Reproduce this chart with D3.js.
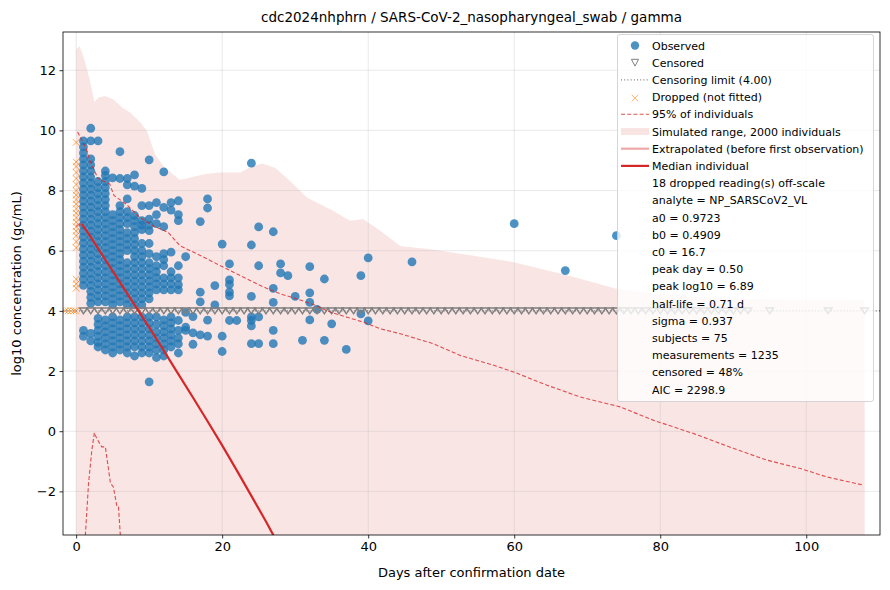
<!DOCTYPE html>
<html>
<head>
<meta charset="utf-8">
<script src="https://cdn.jsdelivr.net/npm/d3@7"></script>
<style>
body { margin: 0; background: #fff; }
text { font-family: "DejaVu Sans", sans-serif; fill: #000; }
</style>
</head>
<body>
<svg id="chart" width="890" height="590"></svg>
<script>
// ---- data ----
const xTicks = [0, 20, 40, 60, 80, 100];
const yTicks = [-2, 0, 2, 4, 6, 8, 10, 12];
const censorLimit = 4.0;

// observed readings, grouped by day
const observed = [
  [1, [9.65, 9.45, 9.25, 9.05, 8.85, 8.65, 8.45, 8.25, 8.05, 7.85, 7.65, 7.45, 7.25, 7.05, 6.85, 6.65, 6.45, 6.25, 6.05, 5.85, 5.65, 5.45, 5.25, 5.05, 4.85, 3.35, 3.15]],
  [2, [10.07, 9.65, 9.05, 8.85, 8.65, 8.45, 8.25, 8.05, 7.85, 7.65, 7.45, 7.25, 7.05, 6.85, 6.65, 6.45, 6.25, 6.05, 5.85, 5.65, 5.45, 5.25, 5.05, 4.85, 4.65, 4.45, 4.25, 3.25, 3.0]],
  [3, [9.65, 8.3, 8.1, 7.9, 7.7, 7.5, 7.3, 7.1, 6.9, 6.7, 6.5, 6.3, 6.1, 5.9, 5.7, 5.5, 5.3, 5.1, 4.9, 4.7, 4.5, 4.3, 3.75, 3.55, 3.35, 3.15, 2.95, 2.8]],
  [4, [8.65, 8.5, 8.3, 8.1, 7.9, 7.7, 7.5, 7.3, 7.1, 6.9, 6.7, 6.5, 6.3, 6.1, 5.9, 5.7, 5.5, 5.3, 5.1, 4.9, 4.7, 4.5, 4.3, 3.7, 3.5, 3.3, 3.1, 2.9, 2.7]],
  [5, [8.42, 7.2, 7.0, 6.8, 6.6, 6.4, 6.2, 6.0, 5.8, 5.6, 5.4, 5.2, 5.0, 4.8, 4.6, 4.4, 4.2, 3.8, 3.6, 3.4, 3.2, 3.0, 2.8, 2.6]],
  [6, [9.29, 8.4, 7.5, 7.3, 7.1, 6.9, 6.7, 6.5, 6.3, 6.1, 5.9, 5.7, 5.5, 5.3, 5.1, 4.9, 4.7, 4.5, 4.3, 3.7, 3.5, 3.3, 3.1, 2.9, 2.7]],
  [7, [8.4, 8.19, 7.72, 7.3, 7.1, 6.9, 6.6, 6.4, 6.2, 6.0, 5.6, 5.4, 5.2, 5.0, 4.8, 4.6, 4.4, 4.2, 3.8, 3.6, 3.4, 3.2, 3.0, 2.8, 2.6]],
  [8, [8.52, 8.15, 7.17, 7.0, 6.8, 6.6, 6.4, 6.2, 6.0, 5.8, 5.6, 5.4, 5.2, 5.0, 4.8, 4.6, 4.4, 4.2, 3.8, 3.6, 3.4, 3.2, 3.0, 2.8, 2.5]],
  [9, [8.07, 7.5, 7.0, 6.85, 6.7, 6.24, 6.0, 5.8, 5.6, 5.4, 5.2, 5.0, 4.8, 4.6, 4.4, 4.2, 3.8, 3.6, 3.4, 3.2, 3.0, 2.8, 2.6]],
  [10, [9.02, 7.5, 7.05, 6.85, 6.67, 6.24, 5.9, 5.6, 5.4, 5.2, 5.0, 4.8, 4.6, 4.4, 3.8, 3.6, 3.4, 3.2, 3.0, 2.8, 2.6, 1.64]],
  [11, [7.6, 7.2, 6.9, 5.8, 5.5, 5.3, 5.1, 4.9, 4.7, 3.8, 3.55, 3.3, 3.1, 2.9, 2.7, 2.45]],
  [12, [8.62, 7.44, 6.8, 5.9, 5.7, 5.5, 5.1, 4.9, 4.7, 3.7, 3.5, 3.3, 3.1, 2.9, 2.7, 2.5]],
  [13, [7.6, 7.35, 5.95, 5.3, 5.1, 4.9, 4.7, 3.8, 3.6, 3.4, 3.2, 3.0, 2.8]],
  [14, [7.66, 7.2, 7.0, 5.5, 5.1, 4.87, 4.7, 3.68, 3.35, 3.1, 2.9, 2.6]],
  [15, [5.8, 3.95, 3.46, 3.35]],
  [16, [3.81, 3.27, 2.89]],
  [17, [6.97, 4.62, 4.3, 3.2]],
  [18, [7.72, 7.42, 3.69, 3.16]],
  [19, [4.84, 4.2]],
  [20, [6.22, 3.16, 2.65]],
  [21, [5.56, 5.03, 4.88, 4.63, 4.5, 3.68]],
  [22, [3.68]],
  [24, [8.91, 6.19, 4.48, 3.8, 3.68, 3.5, 2.91]],
  [25, [6.79, 5.5, 3.8, 2.91]],
  [27, [6.63, 4.75, 4.28, 3.35, 2.91]],
  [28, [5.56, 5.26]],
  [29, [5.17]],
  [30, [4.48]],
  [31, [3.02]],
  [32, [5.47, 4.6, 4.28, 3.7]],
  [33, [4.05]],
  [34, [5.06, 3.02]],
  [35, [3.57]],
  [37, [2.72]],
  [39, [5.17, 3.9]],
  [40, [5.76, 3.67]],
  [46, [5.63]],
  [60, [6.9]],
  [67, [5.34]],
  [74, [6.5]]
];

// censored readings (plotted at the limit)
const censoredDays = [1, 2, 3, 4, 5, 6, 7, 8, 9, 10, 11, 12, 13, 14, 15, 16, 17, 18, 19, 20,
  21, 22, 23, 24, 25, 26, 27, 28, 29, 30, 31, 32, 33, 34, 35, 36, 37, 38, 39, 40,
  41, 42, 43, 44, 45, 46, 47, 48, 49, 50, 51, 52, 53, 54, 55, 56, 57, 58, 59, 60,
  61, 62, 63, 64, 65, 66, 67, 68, 69, 70, 71, 72, 73, 74, 75, 76, 77, 78, 79, 80,
  81, 82, 83, 84, 85, 86, 87, 88, 89, 90, 91, 92, 95, 103, 108];

// dropped readings (not fitted)
const droppedDays = [0, 0, 0, 0, 0, 0, 0, 0, 0, 0, 0, 0, 0, 0, 0, 0, 0, 0, 0, 0, 0, 0, -1.5, -1.1, -0.7, -0.3, 0];
const droppedValues = [9.6, 8.95, 8.8, 8.6, 8.4, 8.2, 8.0, 7.85, 7.7, 7.55, 7.4, 7.25, 7.1, 6.95, 6.8, 6.65, 6.5, 6.3, 6.1, 5.05, 4.9, 4.75, 4.0, 4.0, 4.0, 4.0, 4.0];

// simulated range upper edge (lower edge is off-scale)
const simDays = [0, 0.5, 1.2, 1.9, 2.5, 3.1, 4, 5.1, 6.3, 7.4, 8.8, 9.7, 10.8, 12, 14.2, 17.7, 19.7, 22.5, 24, 25.5, 27.3, 29.3, 31.6, 35, 37.5, 39.3, 41.6, 44.4, 48.5, 54, 59.9, 67, 74.1, 80, 90, 100, 108];
const simUpper = [12.7, 12.8, 12.3, 11.64, 10.95, 11.09, 11.14, 11.03, 10.76, 10.59, 10.26, 9.98, 9.21, 8.8, 8.35, 8.55, 8.6, 8.6, 8.8, 8.9, 8.75, 8.32, 7.77, 7.35, 7.0, 7.05, 6.67, 6.16, 6.05, 5.85, 5.62, 5.2, 4.73, 4.55, 4.4, 4.37, 4.35];
const simLower = -10;

// 95% of individuals, upper and lower dashed curves
const upperDays = [0.2, 1.4, 1.8, 2.5, 3.0, 4.6, 5.2, 6.85, 8.45, 10.5, 12.6, 14.2, 17.0, 18.8, 21.1, 23.4, 25.7, 27.9, 30.2, 32.5, 34.8, 37.1, 39.4, 41.6, 44.4, 48.9, 52.6, 57.2, 59.9, 64.5, 69, 74.5, 79.1, 84.6, 90, 94.6, 99.2, 102.8, 107.8];
const upperValues = [9.95, 9.38, 9.04, 8.66, 8.4, 8.21, 7.83, 7.55, 7.16, 6.83, 6.61, 6.17, 5.84, 5.62, 5.34, 5.06, 4.79, 4.57, 4.4, 4.21, 3.96, 3.79, 3.62, 3.41, 3.24, 2.91, 2.52, 2.19, 1.97, 1.53, 1.14, 0.81, 0.36, -0.08, -0.57, -0.96, -1.24, -1.52, -1.79];
const lowerDays = [1.0, 1.7, 2.15, 2.5, 2.8, 3.5, 4.0, 4.7, 5.1, 5.6, 5.8, 6.2];
const lowerValues = [-4.5, -1.73, -0.63, -0.05, -0.23, -0.52, -0.52, -1.73, -1.85, -2.52, -2.52, -4.0];

// median individual
const extrapDays = [0, 0.5, 0.8];
const extrapValues = [6.8, 6.89, 6.88];
const medianDays = [0.8, 2, 4, 6, 8, 10, 12, 14, 16, 18, 20, 22, 24, 26, 28];
const medianValues = [6.88, 6.45, 5.7, 4.95, 4.2, 3.45, 2.68, 1.9, 1.12, 0.33, -0.47, -1.3, -2.15, -3.0, -3.9];

const legendStats = [
  '18 dropped reading(s) off-scale',
  'analyte = NP_SARSCoV2_VL',
  'a0 = 0.9723',
  'b0 = 0.4909',
  'c0 = 16.7',
  'peak day = 0.50',
  'peak log10 = 6.89',
  'half-life = 0.71 d',
  'sigma = 0.937',
  'subjects = 75',
  'measurements = 1235',
  'censored = 48%',
  'AIC = 2298.9'
];

// ---- chart ----
const blue = '#1f77b4', red = '#d62728', orange = '#ff7f0e', grey = '#7f7f7f';
const pLeft = 63, pRight = 880, pTop = 32, pBottom = 535;

const svg = d3.select('#chart');

const x = d3.scaleLinear().domain([-1.8, 110.1]).range([pLeft, pRight]);
const y = d3.scaleLinear().domain([-3.45, 13.27]).range([pBottom, pTop]);

svg.append('defs').append('clipPath').attr('id', 'plot-clip')
  .append('rect').attr('x', pLeft).attr('y', pTop).attr('width', pRight - pLeft).attr('height', pBottom - pTop);

const plot = svg.append('g').attr('clip-path', 'url(#plot-clip)');

// simulated range
const sim = simDays.map((d, i) => [d, simUpper[i]]);
plot.append('path')
  .datum(sim)
  .attr('d', d3.area().x(d => x(d[0])).y0(y(simLower)).y1(d => y(d[1])))
  .attr('fill', red).attr('fill-opacity', 0.12);

// grid
plot.append('g').selectAll('line').data(xTicks).join('line')
  .attr('x1', d => x(d)).attr('x2', d => x(d)).attr('y1', pTop).attr('y2', pBottom)
  .attr('stroke', '#b0b0b0').attr('stroke-opacity', 0.35).attr('stroke-width', 0.8);
plot.append('g').selectAll('line').data(yTicks).join('line')
  .attr('y1', d => y(d)).attr('y2', d => y(d)).attr('x1', pLeft).attr('x2', pRight)
  .attr('stroke', '#b0b0b0').attr('stroke-opacity', 0.35).attr('stroke-width', 0.8);

// observed
const obsPoints = observed.flatMap(([day, vals]) => vals.map(v => [day, v]));
plot.append('g').selectAll('circle').data(obsPoints).join('circle')
  .attr('cx', d => x(d[0])).attr('cy', d => y(d[1])).attr('r', 4.4)
  .attr('fill', blue).attr('fill-opacity', 0.8);

// censored
const tri = 'M-3.9,-2.9L3.9,-2.9L0,2.9Z';
plot.append('g').selectAll('path').data(censoredDays).join('path')
  .attr('transform', d => `translate(${x(d)},${y(censorLimit)})`)
  .attr('d', tri).attr('fill', 'none').attr('stroke', grey).attr('stroke-width', 1.4);

// dropped
const cross = 'M-3.3,-3.3L3.3,3.3M-3.3,3.3L3.3,-3.3';
plot.append('g').selectAll('path').data(droppedDays.map((d, i) => [d, droppedValues[i]])).join('path')
  .attr('transform', d => `translate(${x(d[0])},${y(d[1])})`)
  .attr('d', cross).attr('fill', 'none').attr('stroke', orange).attr('stroke-opacity', 0.7).attr('stroke-width', 1);

// censoring limit
plot.append('line')
  .attr('x1', pLeft).attr('x2', pRight).attr('y1', y(censorLimit)).attr('y2', y(censorLimit))
  .attr('stroke', grey).attr('stroke-width', 1.1).attr('stroke-dasharray', '1,2.2');

const line = d3.line().x(d => x(d[0])).y(d => y(d[1]));

// 95% of individuals
[[upperDays, upperValues], [lowerDays, lowerValues]].forEach(([ds, vs]) => {
  plot.append('path')
    .datum(ds.map((d, i) => [d, vs[i]]))
    .attr('d', line)
    .attr('fill', 'none').attr('stroke', red).attr('stroke-opacity', 0.8)
    .attr('stroke-width', 1.1).attr('stroke-dasharray', '4,2.2');
});

// extrapolated + median
plot.append('path')
  .datum(extrapDays.map((d, i) => [d, extrapValues[i]]))
  .attr('d', line).attr('fill', 'none').attr('stroke', red).attr('stroke-opacity', 0.4).attr('stroke-width', 2.2);
plot.append('path')
  .datum(medianDays.map((d, i) => [d, medianValues[i]]))
  .attr('d', line).attr('fill', 'none').attr('stroke', red).attr('stroke-width', 2.2);

// axes
const xAxis = svg.append('g').attr('transform', `translate(0,${pBottom})`)
  .call(d3.axisBottom(x).tickValues(xTicks).tickSize(3.5).tickPadding(3.5).tickFormat(d3.format('d')));
const yAxis = svg.append('g').attr('transform', `translate(${pLeft},0)`)
  .call(d3.axisLeft(y).tickValues(yTicks).tickSize(3.5).tickPadding(3.5).tickFormat(d => d < 0 ? '\u2212' + Math.abs(d) : d));
[xAxis, yAxis].forEach(a => {
  a.select('.domain').remove();
  a.selectAll('.tick text').attr('font-size', 13).attr('font-family', '"DejaVu Sans", sans-serif');
  a.selectAll('.tick line').attr('stroke', '#000').attr('stroke-width', 0.8);
});

svg.append('rect')
  .attr('x', pLeft).attr('y', pTop).attr('width', pRight - pLeft).attr('height', pBottom - pTop)
  .attr('fill', 'none').attr('stroke', '#000').attr('stroke-width', 0.8);

svg.append('text')
  .text('cdc2024nhphrn / SARS-CoV-2_nasopharyngeal_swab / gamma')
  .attr('x', (pLeft + pRight) / 2).attr('y', 22).attr('text-anchor', 'middle').attr('font-size', 13.5);
svg.append('text')
  .text('Days after confirmation date')
  .attr('x', (pLeft + pRight) / 2).attr('y', 577).attr('text-anchor', 'middle').attr('font-size', 13);
svg.append('text')
  .text('log10 concentration (gc/mL)')
  .attr('transform', `translate(21,${(pTop + pBottom) / 2}) rotate(-90)`)
  .attr('text-anchor', 'middle').attr('font-size', 13);

// legend
const lg = svg.append('g');
lg.append('rect')
  .attr('x', 617.5).attr('y', 34.5).attr('width', 256).attr('height', 367).attr('rx', 2.5)
  .attr('fill', '#fff').attr('fill-opacity', 0.8).attr('stroke', '#cccccc').attr('stroke-width', 0.8);

const rowY = i => 45.5 + i * 17.2;
const hx = 635;
const handles = [
  { label: 'Observed', draw: g => g.append('circle').attr('cx', hx).attr('r', 4.2).attr('fill', blue).attr('fill-opacity', 0.8) },
  { label: 'Censored', draw: g => g.append('path').attr('transform', `translate(${hx},0)`).attr('d', 'M-3.6,-3.4L3.6,-3.4L0,3.4Z').attr('fill', 'none').attr('stroke', grey) },
  { label: 'Censoring limit (4.00)', draw: g => g.append('line').attr('x1', 621).attr('x2', 649).attr('stroke', grey).attr('stroke-width', 1.1).attr('stroke-dasharray', '1,2.2') },
  { label: 'Dropped (not fitted)', draw: g => g.append('path').attr('transform', `translate(${hx},1)`).attr('d', cross).attr('fill', 'none').attr('stroke', orange).attr('stroke-opacity', 0.6) },
  { label: '95% of individuals', draw: g => g.append('line').attr('x1', 621).attr('x2', 649).attr('stroke', red).attr('stroke-opacity', 0.8).attr('stroke-width', 1.1).attr('stroke-dasharray', '4,2.2') },
  { label: 'Simulated range, 2000 individuals', draw: g => g.append('rect').attr('x', 621).attr('y', -3.5).attr('width', 28).attr('height', 7).attr('fill', red).attr('fill-opacity', 0.12) },
  { label: 'Extrapolated (before first observation)', draw: g => g.append('line').attr('x1', 621).attr('x2', 649).attr('stroke', red).attr('stroke-opacity', 0.4).attr('stroke-width', 2.2) },
  { label: 'Median individual', draw: g => g.append('line').attr('x1', 621).attr('x2', 649).attr('stroke', red).attr('stroke-width', 2.2) }
];
const entries = handles.concat(legendStats.map(s => ({ label: s, draw: () => {} })));
entries.forEach((e, i) => {
  const g = lg.append('g').attr('transform', `translate(0,${rowY(i)})`);
  e.draw(g);
  g.append('text').text(e.label).attr('x', 652).attr('y', 4).attr('font-size', 11);
});
</script>
</body>
</html>
